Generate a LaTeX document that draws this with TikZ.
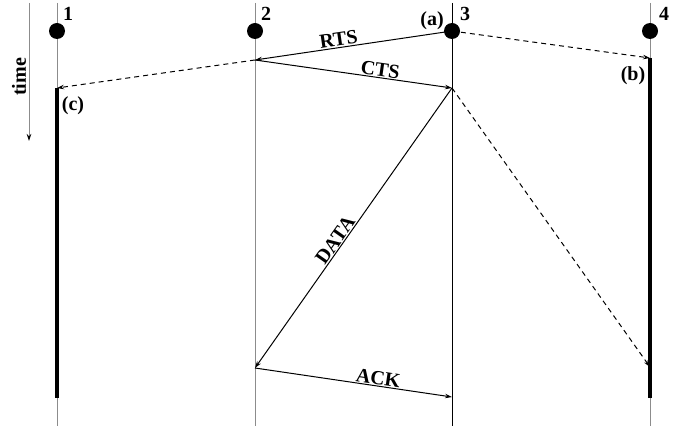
\documentclass[tikz,border=0pt]{standalone}
\usepackage{fontspec}
\setmainfont{Liberation Serif}
\usetikzlibrary{arrows.meta}
\begin{document}
\begin{tikzpicture}[x=1pt,y=-1pt,
  lane/.style={draw=black!45, line width=0.9pt},
  lanedark/.style={draw=black, line width=0.9pt},
  busy/.style={draw=black, line width=4.5pt},
  dot/.style={circle, fill=black, minimum size=16pt, inner sep=0pt},
  msg/.style={draw=black, line width=1pt, -{Stealth[length=7pt,width=4.5pt]}},
  ovh/.style={msg, dash pattern=on 5pt off 4pt},
  lbl/.style={font=\fontsize{20}{22}\selectfont\bfseries, inner sep=1pt},
]
\useasboundingbox (0,0) rectangle (690,430);
% lanes
\coordinate (t1) at (57,3);  \coordinate (b1) at (57,426);
\coordinate (t2) at (255,3); \coordinate (b2) at (255,426);
\coordinate (t3) at (452,3); \coordinate (b3) at (452,426);
\coordinate (t4) at (650,3); \coordinate (b4) at (650,426);
\draw[lane] (t1) -- (b1);
\draw[lane] (t2) -- (b2);
\draw[lanedark] (t3) -- (b3);
\draw[lane] (t4) -- (b4);
% events
\coordinate (e1) at (57,88);   \coordinate (e1end) at (57,398);
\coordinate (e2r) at (255,60);
\coordinate (e3c) at (452,88);
\coordinate (e4) at (650,58);  \coordinate (e4end) at (650,398);
\coordinate (e2d) at (255,368);
\coordinate (e3k) at (452,397);
\coordinate (e4b) at (650,367);
% busy periods
\draw[busy] (e1) -- (e1end);
\draw[busy] (e4) -- (e4end);
% stations
\node[dot] (n1) at (57,31) {};
\node[dot] (n2) at (255,31) {};
\node[dot] (n3) at (452,31) {};
\node[dot] (n4) at (650,31) {};
\node[lbl] (l1) at (68,14) {1};
\node[lbl] (l2) at (266,14) {2};
\node[lbl] (l3) at (465,14) {3};
\node[lbl] (l4) at (664,14) {4};
\node[lbl] (la) at (432,21) {(a)};
\node[lbl] (lb) at (633,76) {(b)};
\node[lbl] (lc) at (73,106) {(c)};
% time axis
\coordinate (tt) at (29,3); \coordinate (tb) at (29,141);
\draw[draw=black!45, line width=0.9pt, -{Stealth[length=7pt,width=4.5pt,color=black]}] (tt) -- (tb);
\node[lbl, rotate=90] (time) at (19,77) {time};
% messages
\draw[msg] (n3.center) -- node[lbl, sloped, above, pos=0.57] {RTS} (e2r);
\draw[msg] (e2r) -- node[lbl, sloped, above, pos=0.63] {CTS} (e3c);
\draw[msg] (e3c) -- node[lbl, sloped, above, pos=0.56] {DATA} (e2d);
\draw[msg] (e2d) -- node[lbl, sloped, above, pos=0.62] {ACK} (e3k);
% overheard
\draw[ovh] (n3.center) -- (e4);
\draw[ovh] (e2r) -- (e1);
\draw[ovh] (e3c) -- (e4b);
\end{tikzpicture}
\end{document}
